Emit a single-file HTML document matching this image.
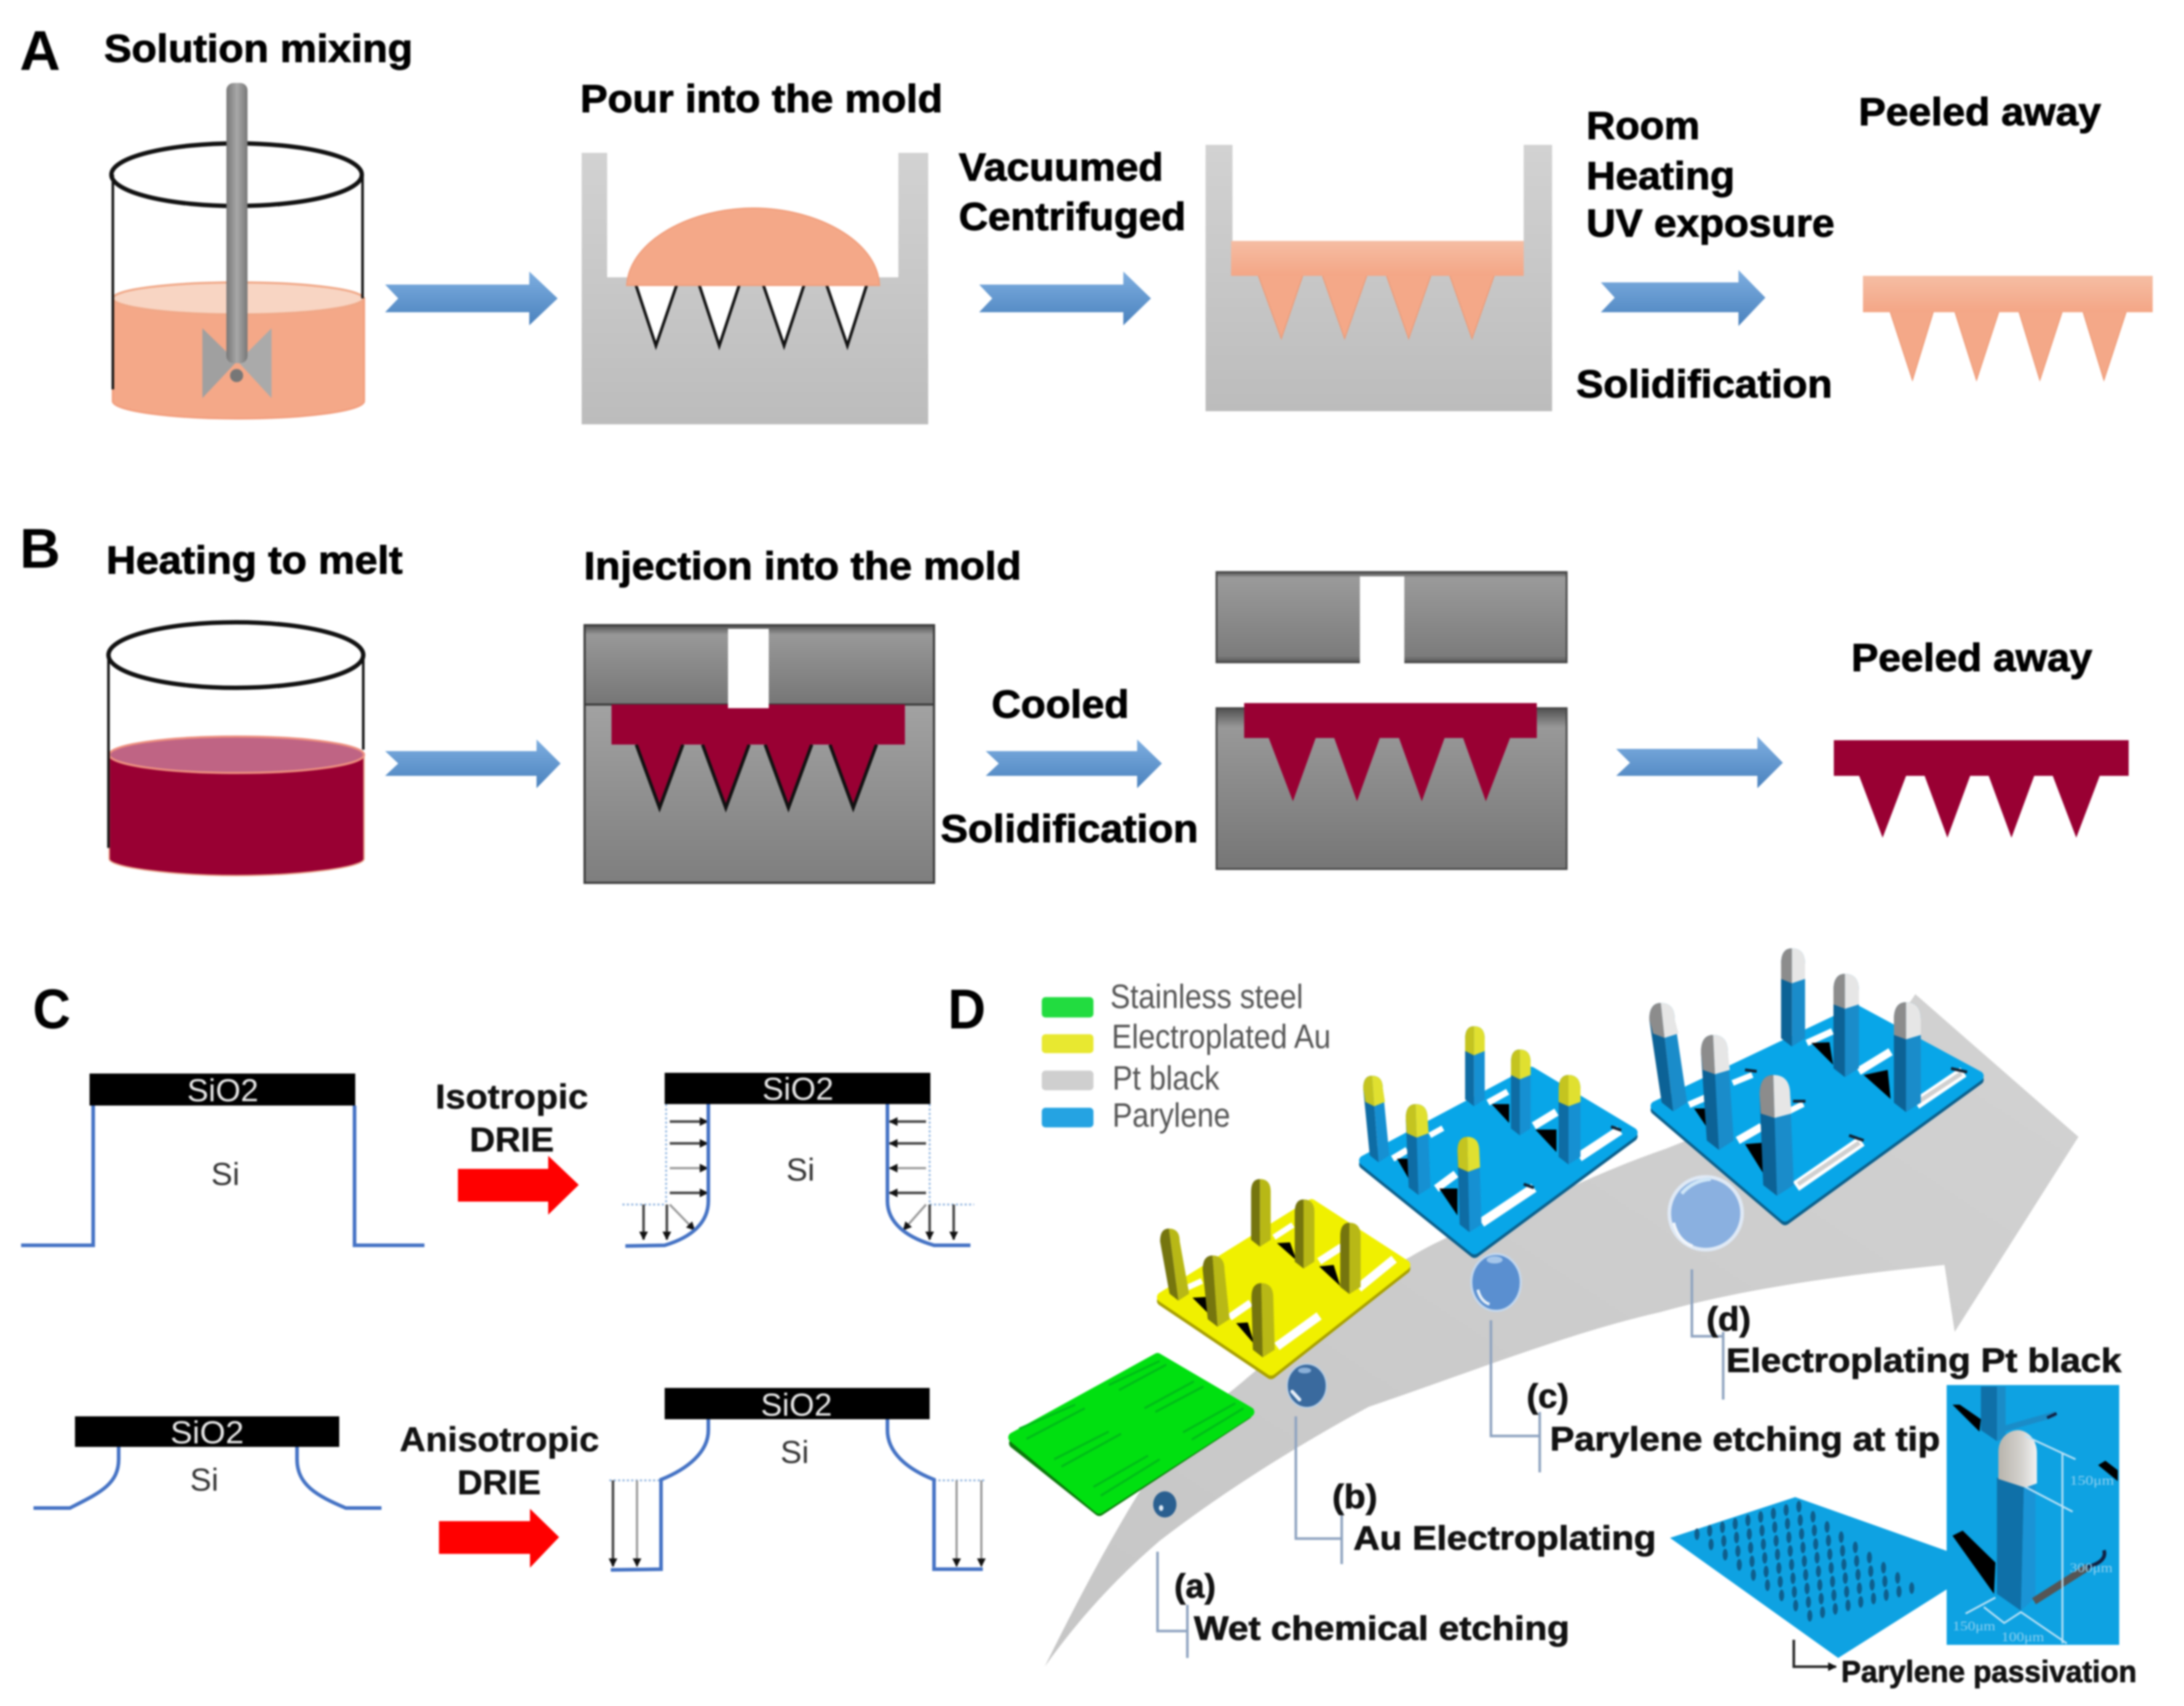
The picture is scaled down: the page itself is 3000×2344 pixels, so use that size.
<!DOCTYPE html>
<html lang="en">
<head>
<meta charset="utf-8">
<title>Microneedle fabrication processes</title>
<style>
html,body{margin:0;padding:0;background:#fff;width:3000px;height:2344px;overflow:hidden}
svg{display:block;filter:blur(1.4px)}
text{font-family:"Liberation Sans",sans-serif}
.b{font-weight:700;font-size:54px;fill:#000;stroke:#000;stroke-width:1px;transform:translate(-2px,-1px)}
.d{font-weight:700;font-size:46px;fill:#111;stroke:#111;stroke-width:.8px;transform:translate(-1px,0)}
.p{font-weight:700;font-size:77px;fill:#000}
.e{font-weight:700;font-size:47px;fill:#111;stroke:#111;stroke-width:.5px}
.w{font-size:44px;fill:#e8e8e8}
.s{font-size:44px;fill:#333}
.l{font-size:46px;fill:#555}
.blue{fill:none;stroke:#4472c4;stroke-width:5}
.dot{fill:none;stroke:#8fb4e0;stroke-width:2.5;stroke-dasharray:3 3}
.call{fill:none;stroke:#8ea3c0;stroke-width:3.5}
.k{stroke:#444;stroke-width:3.5;fill:none;marker-end:url(#ah)}
.g{stroke:#999;stroke-width:3;fill:none;marker-end:url(#ah)}
.inset-dim{font-size:18px;fill:#8fd0f0;font-family:"Liberation Serif",serif}
</style>
</head>
<body>
<svg id="fig" xmlns="http://www.w3.org/2000/svg" width="3000" height="2344" viewBox="0 0 3000 2344">
<defs>
<linearGradient id="ba" x1="0" y1="0" x2="0" y2="1"><stop offset="0" stop-color="#7eaee0"/><stop offset="1" stop-color="#4a82be"/></linearGradient>
<linearGradient id="lg" x1="0" y1="0" x2="0" y2="1"><stop offset="0" stop-color="#d2d2d2"/><stop offset="1" stop-color="#bcbcbc"/></linearGradient>
<linearGradient id="dg" x1="0" y1="0" x2="0" y2="1"><stop offset="0" stop-color="#505050"/><stop offset=".06" stop-color="#9a9a9a"/><stop offset=".93" stop-color="#7c7c7c"/><stop offset="1" stop-color="#555"/></linearGradient>
<linearGradient id="dg2" x1="0" y1="0" x2="0" y2="1"><stop offset="0" stop-color="#a2a2a2"/><stop offset="1" stop-color="#7e7e7e"/></linearGradient>
<linearGradient id="dg3" x1="0" y1="0" x2="0" y2="1"><stop offset="0" stop-color="#505050"/><stop offset=".12" stop-color="#989898"/><stop offset="1" stop-color="#767676"/></linearGradient>
<linearGradient id="sal" x1="0" y1="0" x2="0" y2="1"><stop offset="0" stop-color="#f5bda3"/><stop offset="1" stop-color="#f4a686"/></linearGradient>
<linearGradient id="rod" x1="0" y1="0" x2="1" y2="0"><stop offset="0" stop-color="#777"/><stop offset=".5" stop-color="#a8a8a8"/><stop offset="1" stop-color="#777"/></linearGradient>
<linearGradient id="arrowgrey" x1="0" y1="1" x2="1" y2="0"><stop offset="0" stop-color="#c6c6c6"/><stop offset="1" stop-color="#d2d2d2"/></linearGradient>
<linearGradient id="tipgrey" x1="0" y1="0" x2="1" y2="0"><stop offset="0" stop-color="#b8b4ac"/><stop offset=".6" stop-color="#d4d2ce"/><stop offset="1" stop-color="#f2f2f2"/></linearGradient>
<marker id="ah" viewBox="0 0 10 10" refX="9" refY="5" markerWidth="12" markerHeight="12" markerUnits="userSpaceOnUse" orient="auto"><path d="M0 0L10 5L0 10Z" fill="#111"/></marker>
</defs>
<rect width="3000" height="2344" fill="#fff"/>

<!-- PANEL A -->
<g>
<text class="p" x="27" y="96" textLength="56" lengthAdjust="spacingAndGlyphs">A</text>
<text class="b" x="145" y="86" textLength="424" lengthAdjust="spacingAndGlyphs">Solution mixing</text>
<g>
<path d="M155 410V551C155 565 240 575 327 575C414 575 500 565 500 551V410Z" fill="#f4a888" stroke="#f2a080" stroke-width="3"/>
<ellipse cx="327" cy="410" rx="172" ry="22" fill="#f8d5c3" stroke="#f0a888" stroke-width="3"/>
<line x1="155" y1="240" x2="155" y2="535" stroke="#111" stroke-width="3.5"/>
<line x1="498" y1="240" x2="498" y2="410" stroke="#111" stroke-width="3.5"/>
<ellipse cx="325" cy="240" rx="172" ry="43" fill="none" stroke="#111" stroke-width="6"/>
<path d="M278 451L325 497L278 547Z" fill="#a0a0a0"/><path d="M373 451L327 497L373 547Z" fill="#aaa"/>
<rect x="311" y="114" width="29" height="385" rx="10" fill="url(#rod)"/>
<circle cx="325" cy="516" r="9" fill="#777"/>
</g>
<polygon points="529,391 727,391 727,373 766,410 727,447 727,429 529,429 547,410" fill="url(#ba)"/>

<text class="b" x="799" y="155" textLength="498" lengthAdjust="spacingAndGlyphs">Pour into the mold</text>
<g>
<path d="M799 210H834V381H1234V210H1275V583H799Z" fill="url(#lg)"/>
<g fill="#fff" stroke="none">
<polygon points="873,390 930,390 901,475"/><polygon points="960,390 1016,390 988,475"/><polygon points="1048,390 1105,390 1077,475"/><polygon points="1135,390 1191,390 1164,475"/>
</g>
<g fill="none" stroke="#111" stroke-width="4" stroke-linejoin="miter">
<polyline points="873,390 901,475 930,390"/><polyline points="960,390 988,475 1016,390"/><polyline points="1048,390 1077,475 1105,390"/><polyline points="1135,390 1164,475 1191,390"/>
</g>
<path d="M861 392C865 330 950 286 1035 286C1120 286 1205 330 1208 392Z" fill="#f4a888" stroke="#f09e7c" stroke-width="2"/>
</g>
<text class="b" x="1319" y="249" textLength="281" lengthAdjust="spacingAndGlyphs">Vacuumed</text>
<text class="b" x="1319" y="317" textLength="312" lengthAdjust="spacingAndGlyphs">Centrifuged</text>
<polygon points="1345,391 1543,391 1543,373 1581,410 1543,447 1543,429 1345,429 1363,410" fill="url(#ba)"/>
<g>
<path d="M1656 199H1693V331H2093V199H2132V565H1656Z" fill="url(#lg)"/>
<g fill="#f4a888" stroke="#ee9a76" stroke-width="1.5">
<polygon points="1728,377 1790,377 1760,465"/><polygon points="1816,377 1878,377 1847,465"/><polygon points="1904,377 1966,377 1935,465"/><polygon points="1991,377 2053,377 2022,465"/>
</g>
<rect x="1691" y="331" width="402" height="48" fill="url(#sal)"/>
</g>
<text class="b" x="2181" y="192" textLength="156" lengthAdjust="spacingAndGlyphs">Room</text>
<text class="b" x="2181" y="261" textLength="204" lengthAdjust="spacingAndGlyphs">Heating</text>
<text class="b" x="2181" y="326" textLength="341" lengthAdjust="spacingAndGlyphs">UV exposure</text>
<text class="b" x="2167" y="547" textLength="352" lengthAdjust="spacingAndGlyphs">Solidification</text>
<polygon points="2199,388 2388,388 2388,371 2425,409 2388,448 2388,429 2199,429 2218,409" fill="url(#ba)"/>
<text class="b" x="2555" y="173" textLength="333" lengthAdjust="spacingAndGlyphs">Peeled away</text>
<g>
<g fill="#f4a888" stroke="#ee9a76" stroke-width="1.5">
<polygon points="2596,427 2656,427 2627,522"/><polygon points="2685,427 2746,427 2715,522"/><polygon points="2773,427 2833,427 2802,522"/><polygon points="2861,427 2921,427 2890,522"/>
</g>
<rect x="2559" y="379" width="398" height="50" fill="url(#sal)"/>
</g>
</g>

<!-- PANEL B -->
<g>
<text class="p" x="27" y="780" textLength="56" lengthAdjust="spacingAndGlyphs">B</text>
<text class="b" x="148" y="789" textLength="407" lengthAdjust="spacingAndGlyphs">Heating to melt</text>
<g>
<path d="M150 1037V1180C150 1192 240 1203 325 1203C410 1203 500 1192 500 1180V1037Z" fill="#990033" stroke="#e8a088" stroke-width="2"/>
<ellipse cx="325" cy="1037" rx="175" ry="25" fill="#bf6484" stroke="#ee9080" stroke-width="3"/>
<line x1="149" y1="900" x2="149" y2="1165" stroke="#111" stroke-width="3.5"/>
<line x1="499" y1="900" x2="499" y2="1030" stroke="#111" stroke-width="3.5"/>
<ellipse cx="324" cy="900" rx="175" ry="45" fill="none" stroke="#111" stroke-width="6"/>
</g>
<polygon points="529,1032 737,1032 737,1016 770,1049 737,1083 737,1066 529,1066 547,1049" fill="url(#ba)"/>
<text class="b" x="804" y="797" textLength="601" lengthAdjust="spacingAndGlyphs">Injection into the mold</text>
<g>
<rect x="803" y="859" width="480" height="109" fill="url(#dg3)" stroke="#3c3c3c" stroke-width="3"/>
<rect x="803" y="968" width="480" height="245" fill="url(#dg2)" stroke="#3c3c3c" stroke-width="3"/>
<rect x="1000" y="864" width="56" height="109" fill="#fff"/>
<g fill="#990033" stroke="none">
<polygon points="874,1021 938,1021 906,1110"/><polygon points="965,1021 1029,1021 997,1110"/><polygon points="1051,1021 1115,1021 1083,1110"/><polygon points="1140,1021 1204,1021 1172,1110"/>
</g>
<g fill="none" stroke="#111" stroke-width="4.5" stroke-linejoin="miter">
<polyline points="874,1023 906,1110 938,1023"/><polyline points="965,1023 997,1110 1029,1023"/><polyline points="1051,1023 1083,1110 1115,1023"/><polyline points="1140,1023 1172,1110 1204,1023"/>
</g>
<path d="M840 968H1000V973H1056V968H1243V1023H840Z" fill="#990033"/>
</g>
<text class="b" x="1364" y="987" textLength="189" lengthAdjust="spacingAndGlyphs">Cooled</text>
<text class="b" x="1294" y="1158" textLength="354" lengthAdjust="spacingAndGlyphs">Solidification</text>
<polygon points="1354,1032 1562,1032 1562,1016 1596,1049 1562,1083 1562,1066 1354,1066 1372,1049" fill="url(#ba)"/>
<g>
<rect x="1671" y="786" width="481" height="124" fill="url(#dg)" stroke="#444" stroke-width="2.5"/>
<rect x="1868" y="792" width="61" height="120" fill="#fff"/>
<rect x="1671" y="973" width="481" height="221" fill="url(#dg3)" stroke="#444" stroke-width="2.5"/>
<rect x="1709" y="966" width="402" height="48" fill="#990033"/>
<g fill="#990033">
<polygon points="1742,1012 1808,1012 1776,1101"/><polygon points="1832,1012 1896,1012 1864,1101"/><polygon points="1921,1012 1985,1012 1953,1101"/><polygon points="2009,1012 2075,1012 2041,1101"/>
</g>
</g>
<polygon points="2220,1029 2414,1029 2414,1012 2449,1048 2414,1083 2414,1066 2220,1066 2239,1048" fill="url(#ba)"/>
<text class="b" x="2545" y="923" textLength="331" lengthAdjust="spacingAndGlyphs">Peeled away</text>
<g>
<rect x="2519" y="1017" width="405" height="49" fill="#990033"/>
<g fill="#990033">
<polygon points="2553,1064 2619,1064 2586,1151"/><polygon points="2643,1064 2707,1064 2675,1151"/><polygon points="2731,1064 2795,1064 2763,1151"/><polygon points="2819,1064 2885,1064 2852,1151"/>
</g>
</g>
</g>

<!-- PANEL C -->
<g>
<text class="p" x="45" y="1413" textLength="52" lengthAdjust="spacingAndGlyphs">C</text>

<g>
<rect x="123" y="1475" width="365" height="44" fill="#000"/>
<text class="w" x="257" y="1513" textLength="98" lengthAdjust="spacingAndGlyphs">SiO2</text>
<text class="s" x="290" y="1628">Si</text>
<path class="blue" d="M29 1711H128V1519M487 1519V1711H583"/>
</g>
<text class="e" x="598" y="1523" textLength="210" lengthAdjust="spacingAndGlyphs">Isotropic</text>
<text class="e" x="645" y="1582" textLength="116" lengthAdjust="spacingAndGlyphs">DRIE</text>
<polygon points="629,1606 753,1606 753,1588 795,1628 753,1669 753,1651 629,1651" fill="#ff0000"/>
<g>
<path class="dot" d="M915 1517V1655M855 1655H915M1277 1517V1655M1277 1655H1338"/>
<path class="k" d="M920 1541H972"/><path class="k" d="M920 1571H972"/><path class="g" d="M920 1605H972"/><path class="k" d="M920 1639H972"/>
<path class="k" d="M1272 1541H1222"/><path class="k" d="M1272 1571H1222"/><path class="g" d="M1272 1605H1222"/><path class="k" d="M1272 1639H1222"/>
<path class="k" d="M884 1655V1703"/><path class="k" d="M916 1655V1703"/><path class="g" d="M920 1655L954 1690"/>
<path class="k" d="M1277 1655V1703"/><path class="k" d="M1310 1655V1703"/><path class="g" d="M1272 1655L1241 1690"/>
<rect x="913" y="1474" width="365" height="43" fill="#000"/>
<text class="w" x="1047" y="1511" textLength="98" lengthAdjust="spacingAndGlyphs">SiO2</text>
<text class="s" x="1080" y="1622">Si</text>
<path class="blue" d="M859 1712L913 1711C950 1700 973 1680 973 1650V1517M1219 1517V1650C1219 1680 1245 1700 1283 1711H1333"/>
</g>

<g>
<rect x="103" y="1946" width="363" height="42" fill="#000"/>
<text class="w" x="234" y="1983" textLength="101" lengthAdjust="spacingAndGlyphs">SiO2</text>
<text class="s" x="261" y="2048">Si</text>
<path class="blue" d="M46 2072H96C135 2052 163 2040 163 2005V1988M408 1988V2005C408 2040 435 2055 475 2072H524"/>
</g>
<text class="e" x="549" y="1994" textLength="274" lengthAdjust="spacingAndGlyphs">Anisotropic</text>
<text class="e" x="628" y="2053" textLength="115" lengthAdjust="spacingAndGlyphs">DRIE</text>
<polygon points="603,2090 728,2090 728,2073 768,2112 728,2154 728,2135 603,2135" fill="#ff0000"/>
<g>
<path class="dot" d="M837 2034H908M1283 2034H1355"/>
<path class="k" d="M842 2034V2152"/><path class="g" d="M875 2034V2152"/><path class="g" d="M1314 2034V2152"/><path class="g" d="M1348 2034V2152"/>
<rect x="913" y="1907" width="364" height="43" fill="#000"/>
<text class="w" x="1045" y="1945" textLength="98" lengthAdjust="spacingAndGlyphs">SiO2</text>
<text class="s" x="1072" y="2010">Si</text>
<path class="blue" d="M839 2157L908 2156V2033C945 2018 973 1995 973 1965V1950M1219 1950V1965C1219 1995 1245 2018 1283 2033V2156H1350"/>
</g>
</g>

<!-- PANEL D -->
<g>
<text class="p" x="1302" y="1413" textLength="52" lengthAdjust="spacingAndGlyphs">D</text>
<path fill="url(#arrowgrey)" d="M1435 2290C1465 2230 1500 2160 1547 2080C1590 2005 1640 1950 1693 1910C1760 1855 1850 1770 1937 1727C1990 1695 2080 1660 2160 1630C2200 1612 2240 1595 2289 1578L2560 1470L2631 1366L2855 1562L2685 1830L2671 1738C2500 1755 2380 1775 2280 1803C2160 1830 2026 1883 1880 1933C1780 1987 1680 2050 1593 2117C1520 2180 1473 2237 1435 2290Z"/>

<g>
<rect x="1431" y="1370" width="71" height="28" rx="5" fill="#22dc40"/>
<rect x="1431" y="1421" width="71" height="26" rx="5" fill="#e8e830"/>
<rect x="1431" y="1471" width="71" height="27" rx="5" fill="#cfcfcf"/>
<rect x="1431" y="1522" width="71" height="27" rx="5" fill="#25a3e2"/>
<text class="l" x="1525" y="1385" textLength="265" lengthAdjust="spacingAndGlyphs">Stainless steel</text>
<text class="l" x="1527" y="1440" textLength="301" lengthAdjust="spacingAndGlyphs">Electroplated Au</text>
<text class="l" x="1528" y="1497" textLength="147" lengthAdjust="spacingAndGlyphs">Pt black</text>
<text class="l" x="1528" y="1548" textLength="162" lengthAdjust="spacingAndGlyphs">Parylene</text>
</g>

<g>
<polygon points="1393,1983 1590,1868 1713,1943 1510,2076" fill="#0a7a0a" stroke="#0a7a0a" stroke-width="14" stroke-linejoin="round"/>
<polygon points="1392,1975 1590,1866 1716,1940 1510,2073" fill="#00e010" stroke="#00e010" stroke-width="14" stroke-linejoin="round"/>
<path d="M1400 1963L1477 1930M1410 1977L1490 1935M1448 2005L1523 1967M1458 2015L1540 1970M1502 2043L1577 2000M1512 2055L1593 2005M1523 1903L1593 1870M1537 1910L1602 1875M1572 1935L1640 1898M1587 1940L1653 1905M1625 1968L1697 1928M1637 1978L1708 1935" stroke="#00bc18" stroke-width="3" fill="none"/>
</g>
<g>
<ellipse cx="1600" cy="2067" rx="16" ry="18" fill="#2a5f90"/>
<ellipse cx="1595" cy="2072" rx="3" ry="4" fill="#dfeaf5"/>
</g>
<g id="plate-yellow"></g>
<g>
<ellipse cx="1795" cy="1904" rx="27" ry="30" fill="#3a6a9e" stroke="#b8cfe6" stroke-width="2"/>
<ellipse cx="1792" cy="1883" rx="9" ry="4" fill="#8ab0d8"/>
<path d="M1775 1912L1785 1923" stroke="#e6eff8" stroke-width="5" stroke-linecap="round"/>
</g>
<g id="plate-c"></g>
<g>
<ellipse cx="2055" cy="1762" rx="34" ry="39" fill="#5a8fd0" stroke="#c4d8ee" stroke-width="3"/>
<ellipse cx="2053" cy="1731" rx="11" ry="5" fill="#a5c6ea"/>
<path d="M2030 1772Q2034 1788 2046 1792" stroke="#e6eff8" stroke-width="4" fill="none"/>
</g>
<g>
<circle cx="2343" cy="1667" r="50" fill="#8ab0e0" stroke="#dfe9f5" stroke-width="5"/>
<path d="M2310 1640Q2325 1622 2350 1620" stroke="#cfe6f7" stroke-width="5" fill="none"/>
<path d="M2299 1680Q2305 1705 2325 1712" stroke="#f2f6fb" stroke-width="4" fill="none"/>
</g>
<g id="plate-d"></g>

<g>
<path class="call" d="M1590 2132V2241H1631M1631 2205V2278"/>
<path class="call" d="M1780 1946V2114H1843M1843 2076V2149"/>
<path class="call" d="M2048 1814V1973H2115M2115 1940V2023"/>
<path class="call" d="M2324 1744V1836H2367M2367 1830V1923"/>
</g>
<text class="d" x="1614" y="2195" textLength="57" lengthAdjust="spacingAndGlyphs">(a)</text>
<text class="d" x="1641" y="2253" textLength="516" lengthAdjust="spacingAndGlyphs">Wet chemical etching</text>
<text class="d" x="1831" y="2072" textLength="62" lengthAdjust="spacingAndGlyphs">(b)</text>
<text class="d" x="1860" y="2129" textLength="416" lengthAdjust="spacingAndGlyphs">Au Electroplating</text>
<text class="d" x="2098" y="1934" textLength="58" lengthAdjust="spacingAndGlyphs">(c)</text>
<text class="d" x="2130" y="1993" textLength="536" lengthAdjust="spacingAndGlyphs">Parylene etching at tip</text>
<text class="d" x="2345" y="1828" textLength="61" lengthAdjust="spacingAndGlyphs">(d)</text>
<text class="d" x="2372" y="1885" textLength="543" lengthAdjust="spacingAndGlyphs">Electroplating Pt black</text>

<g id="array">
<polygon points="2294,2113 2466,2057 2680,2133 2680,2180 2525,2278" fill="#0ea2e2"/>
</g>
<path d="M2464 2253V2290H2522" fill="none" stroke="#222" stroke-width="3.5" marker-end="url(#ah)"/>
<text class="d" x="2530" y="2311" style="font-size:42px" textLength="406" lengthAdjust="spacingAndGlyphs">Parylene passivation</text>

<g>
<rect x="2674" y="1903" width="237" height="357" fill="#0ea2e2"/>
<polygon points="2721,1905 2743,1905 2743,1980 2721,1965" fill="#0f70a8"/>
<polygon points="2743,1905 2755,1905 2755,1975 2743,1980" fill="#1a8cc8"/>
<path d="M2753 1963L2823 1943" stroke="#1a8cc8" stroke-width="8"/>
<path d="M2812 1948L2825 1942" stroke="#124" stroke-width="4"/>
<polygon points="2682,1930 2692,1930 2721,1950 2719,1967" fill="#000"/>
<polygon points="2882,2013 2892,2007 2909,2020 2909,2035" fill="#000"/>
<polygon points="2682,2110 2696,2103 2741,2147 2739,2190" fill="#000"/>
<polygon points="2743,2030 2780,2043 2776,2213 2743,2190" fill="#0f70a8"/>
<polygon points="2780,2043 2796,2040 2796,2195 2776,2213" fill="#1a94d6"/>
<path d="M2745 2032V1995C2745 1975 2760 1965 2772 1965C2785 1965 2798 1978 2798 1996V2038L2782 2044Z" fill="url(#tipgrey)"/>
<path d="M2794 2200L2868 2153" stroke="#555" stroke-width="10"/>
<path d="M2868 2153Q2895 2145 2890 2130" stroke="#124" stroke-width="5" fill="none"/>
<path d="M2782 1973L2851 2005M2782 2043L2847 2077M2833 1997V2258M2700 2217L2741 2195M2725 2208L2753 2230L2776 2215L2839 2258" fill="none" stroke="#bfe3f6" stroke-width="2.5"/>
<text class="inset-dim" x="2843" y="2040" textLength="61" lengthAdjust="spacingAndGlyphs">150μm</text>
<text class="inset-dim" x="2843" y="2160" textLength="59" lengthAdjust="spacingAndGlyphs">300μm</text>
<text class="inset-dim" x="2682" y="2240" textLength="59" lengthAdjust="spacingAndGlyphs">150μm</text>
<text class="inset-dim" x="2749" y="2255" textLength="59" lengthAdjust="spacingAndGlyphs">100μm</text>
</g>
</g>
</svg>
<script>
var NS = 'http://www.w3.org/2000/svg';
function node(parent, tag, attrs) {
  var el = document.createElementNS(NS, tag);
  for (var k in attrs) { el.setAttribute(k, attrs[k]); }
  parent.appendChild(el);
  return el;
}
var plates = [
  { id: 'plate-yellow', corners: [[1589,1783],[1803,1650],[1937,1737],[1745,1888]], top: '#f0f000', edge: '#a8a000',
    left: '#75750e', right: '#b8b816', tipL: null, tipR: null,
    whites: [[1754,1850,1812,1808,12,'#fff'],[1866,1770,1915,1730,12,'#fff'],[1689,1810,1718,1790,10,'#fff'],[1812,1733,1843,1713,10,'#fff'],[1629,1770,1651,1760,8,'#fff'],[1750,1700,1776,1683,8,'#fff']],
    blacks: [[1698,1818,1714,1817,1723,1847],[1638,1783,1656,1782,1663,1808],[1812,1740,1832,1738,1841,1767],[1754,1708,1772,1707,1781,1732]],
    hooks: [],
    posts: [[1732,1620,1732,1713,27,0],[1792,1648,1792,1743,27,0],[1855,1680,1855,1778,28,0],[1607,1688,1620,1787,27,0],[1667,1725,1674,1823,30,0],[1734,1763,1736,1865,30,0]] },
  { id: 'plate-c', corners: [[1866,1595],[2105,1468],[2250,1555],[2024,1722]], top: '#08a6e8', edge: '#0a5f8c',
    left: '#0e6ca4', right: '#1690d2', tipL: '#c4c420', tipR: '#e0e030',
    whites: [[2035,1680,2107,1632,13,'#fff'],[2169,1590,2225,1553,13,'#fff'],[1973,1633,2000,1613,11,'#fff'],[2107,1547,2138,1528,11,'#fff'],[1913,1592,1933,1580,9,'#fff'],[2044,1515,2071,1500,9,'#fff'],[1964,1560,1982,1550,8,'#fff']],
    blacks: [[1977,1633,2002,1633,2002,1670],[1919,1592,1937,1592,1937,1623],[2109,1552,2138,1552,2138,1583],[2049,1517,2073,1517,2073,1543]],
    hooks: [[2213,1548,2227,1553],[2093,1627,2107,1632]],
    posts: [[2026,1410,2026,1520,27,1447],[2089,1442,2089,1560,27,1480],[2156,1477,2156,1600,30,1517],[1886,1478,1895,1597,27,1517],[1946,1517,1950,1642,30,1560],[2017,1562,2020,1693,30,1607]] },
  { id: 'plate-d', corners: [[2265,1520],[2553,1383],[2727,1477],[2450,1678]], top: '#08a6e8', edge: '#0a5f8c',
    left: '#0c6296', right: '#1a8cca', tipL: '#8c8c8c', tipR: '#e6e6e6',
    whites: [[2467,1630,2557,1568,15,'#fff'],[2470,1627,2554,1570,6,'#cfcfcf'],[2632,1517,2697,1473,15,'#fff'],[2635,1514,2694,1475,6,'#cfcfcf'],[2387,1567,2420,1548,11,'#fff'],[2553,1472,2597,1445,11,'#fff'],[2320,1518,2343,1508,9,'#fff'],[2482,1433,2517,1417,9,'#fff'],[2380,1488,2407,1477,8,'#fff'],[2457,1527,2477,1517,8,'#fff']],
    blacks: [[2327,1523,2347,1523,2350,1557],[2397,1572,2422,1570,2425,1617],[2488,1433,2513,1432,2518,1463],[2560,1477,2593,1470,2597,1510]],
    hooks: [[2540,1560,2560,1567],[2680,1468,2702,1473],[2397,1470,2413,1472],[2463,1513,2480,1513]],
    posts: [[2463,1303,2463,1438,33,1348],[2536,1338,2536,1480,35,1383],[2620,1377,2620,1528,37,1425],[2283,1378,2300,1527,35,1423],[2355,1422,2363,1580,37,1473],[2438,1477,2443,1643,42,1533]] }
];
function drawPlate(p) {
  var g = document.getElementById(p.id);
  var cx = 0, cy = 0;
  p.corners.forEach(function (c) { cx += c[0] / 4; cy += c[1] / 4; });
  var inner = p.corners.map(function (c) { return [cx + 0.96 * (c[0] - cx), cy + 0.96 * (c[1] - cy)]; });
  var under = node(g, 'polygon', { points: inner.map(function (c) { return c[0] + ',' + (c[1] + 5); }).join(' '), fill: p.edge, stroke: p.edge, 'stroke-width': 14, 'stroke-linejoin': 'round' });
  
  
  var face = node(g, 'polygon', { points: inner.map(function (c) { return c.join(','); }).join(' '), fill: p.top, stroke: p.top, 'stroke-width': 14, 'stroke-linejoin': 'round' });
  
  
  p.whites.forEach(function (s) {
    var slot = node(g, 'line', { x1: s[0], y1: s[1], x2: s[2], y2: s[3], stroke: s[5], 'stroke-width': s[4] });
    
    
  });
  p.hooks.forEach(function (s) {
    var hook = node(g, 'line', { x1: s[0], y1: s[1], x2: s[2], y2: s[3], stroke: '#123', 'stroke-width': 4 });
    
    
  });
  p.blacks.forEach(function (b) {
    var hole = node(g, 'polygon', { points: b[0] + ',' + b[1] + ' ' + b[2] + ',' + b[3] + ' ' + b[4] + ',' + b[5], fill: '#000' });
    
    
  });
  p.posts.forEach(function (q) {
    var xT = q[0], yT = q[1], xB = q[2], yB = q[3], w = q[4], tipEnd = q[5], h = w / 2;
    var mT = xT - w * 0.05, mB = xB - w * 0.05;
    var baseY = yB - w * 0.35;
    var capY = yT + w * 0.65;
    var right = node(g, 'path', { d: 'M' + mT + ' ' + yT + 'Q' + (xT + h) + ' ' + yT + ' ' + (xT + h) + ' ' + capY + 'L' + (xB + h) + ' ' + baseY + 'L' + mB + ' ' + yB + 'Z', fill: p.right });
    
    
    var left = node(g, 'path', { d: 'M' + mT + ' ' + yT + 'Q' + (xT - h) + ' ' + yT + ' ' + (xT - h) + ' ' + capY + 'L' + (xB - h) + ' ' + baseY + 'L' + mB + ' ' + yB + 'Z', fill: p.left });
    
    
    if (p.tipL) {
      var f = (tipEnd - yT) / (yB - yT);
      var xE = xT + (xB - xT) * f;
      var tipLeft = node(g, 'path', { d: 'M' + mT + ' ' + yT + 'Q' + (xT - h) + ' ' + yT + ' ' + (xT - h) + ' ' + capY + 'L' + (xE - h) + ' ' + (tipEnd - 3) + 'L' + (xE - w * 0.05) + ' ' + (tipEnd + 3) + 'Z', fill: p.tipL });
      
      
      var tipRight = node(g, 'path', { d: 'M' + mT + ' ' + yT + 'Q' + (xT + h) + ' ' + yT + ' ' + (xT + h) + ' ' + capY + 'L' + (xE + h) + ' ' + (tipEnd - 3) + 'L' + (xE - w * 0.05) + ' ' + (tipEnd + 3) + 'Z', fill: p.tipR });
      
      
    }
  });
}
plates.forEach(drawPlate);

var arrayGroup = document.getElementById('array');
for (var i = 0; i < 9; i++) {
  for (var j = 0; j < 9; j++) {
    var dot = document.createElementNS(NS, 'ellipse');
    dot.setAttribute('cx', 2331 + (i / 8) * 155 + (j / 8) * 140);
    dot.setAttribute('cy', 2108 + (i / 8) * 112 + (j / 8) * -38);
    dot.setAttribute('rx', 3.5);
    dot.setAttribute('ry', 8);
    dot.setAttribute('fill', '#0f5e8c');
    
    
    arrayGroup.appendChild(dot);
  }
}
</script>
</body>
</html>
